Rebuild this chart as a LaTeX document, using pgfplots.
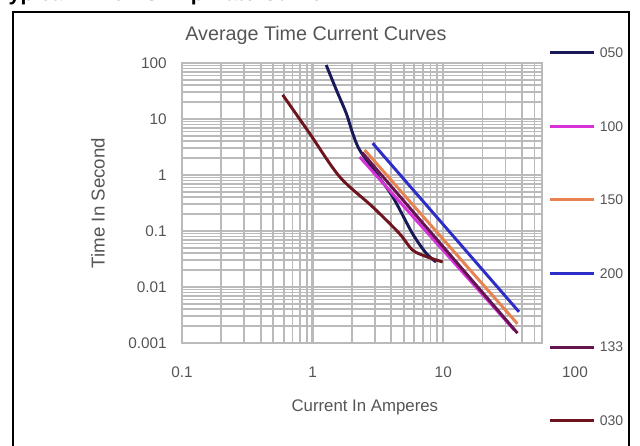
\documentclass[border=0pt]{standalone}
\usepackage{pgfplots}
\pgfplotsset{compat=1.18}
\usepackage{fontspec}
\setmainfont{Liberation Sans}
\definecolor{c050}{RGB}{25,25,90}
\definecolor{c100}{RGB}{215,50,215}
\definecolor{c150}{RGB}{232,130,80}
\definecolor{c200}{RGB}{45,45,200}
\definecolor{c133}{RGB}{100,20,80}
\definecolor{c030}{RGB}{110,20,30}
\definecolor{txt}{RGB}{85,85,85}
\definecolor{gridc}{RGB}{186,186,186}
\begin{document}
\begin{tikzpicture}
\begin{axis}[
  scale only axis, width=270pt, height=210pt,
  xmode=log, ymode=log,
  xmin=0.1, xmax=57, ymin=0.001, ymax=100,
  xtick={0.1,1,10}, xticklabels={0.1,1,10},
  ytick={0.001,0.01,0.1,1,10,100}, yticklabels={0.001,0.01,0.1,1,10,100},
  minor xtick={0.2,0.3,0.4,0.5,0.6,0.7,0.8,0.9,2,3,4,5,6,7,8,9,20,30,40,50},
  minor ytick={0.002,0.003,0.004,0.005,0.006,0.007,0.008,0.009,
    0.02,0.03,0.04,0.05,0.06,0.07,0.08,0.09,
    0.2,0.3,0.4,0.5,0.6,0.7,0.8,0.9,
    2,3,4,5,6,7,8,9,20,30,40,50,60,70,80,90},
  grid=both,
  major grid style={gridc, line width=1.8pt},
  minor grid style={gridc, line width=1.3pt},
  major tick length=0pt, minor tick length=0pt,
  axis line style={gridc, line width=1.6pt},
  xticklabel style={font=\fontsize{11.5}{12}\selectfont, text=txt, anchor=center, inner sep=0pt, yshift=-21.75pt},
  yticklabel style={font=\fontsize{11.5}{12}\selectfont, text=txt, anchor=east, inner sep=0pt, xshift=-11.25pt},
  title={Average Time Current Curves},
  title style={at={(axis description cs:0.372,1.071)}, anchor=center, font=\fontsize{14.8}{16}\selectfont, text=txt},
  xlabel={Current In Amperes},
  xlabel style={at={(axis description cs:0.508,-0.2286)}, anchor=center, font=\fontsize{12.6}{14}\selectfont, text=txt},
  ylabel={Time In Second},
  ylabel style={at={(axis description cs:-0.2333,0.5)}, anchor=center, font=\fontsize{14}{15}\selectfont, text=txt},
  legend style={at={(axis description cs:1.0194,1.0533)}, anchor=north west, draw=none, fill=none,
    inner sep=0pt, outer sep=0pt, row sep=48.2pt, column sep=3pt,
    font=\fontsize{10.5}{11}\selectfont, text=txt,
    nodes={inner sep=0pt, text height=7pt, text depth=0pt}},
  legend cell align=left,
  legend image code/.code={\path[draw=none, fill=none] (0pt,-3.5pt) rectangle (33pt,3.5pt); \draw[#1] (0pt,0pt) -- (33pt,0pt);},
  every axis plot/.append style={line width=2.2pt},
]
\addplot[c050, smooth] coordinates {(1.27,92) (1.52,33) (1.81,12.6) (2.03,5.5) (2.29,2.8) (3.06,1.07) (4.1,0.41) (5.8,0.091) (7.4,0.040) (8.8,0.028)};
\addplot[c100] coordinates {(2.29,2.1) (35,0.0017)};
\addplot[c150] coordinates {(2.5,2.8) (37,0.0022)};
\addplot[c200] coordinates {(2.88,3.7) (38,0.0036)};
\addplot[c133] coordinates {(2.4,2.5) (37,0.0015)};
\addplot[c030, smooth] coordinates {(0.59,27) (0.95,5.5) (1.61,0.93) (2.88,0.27) (4.6,0.091) (5.8,0.046) (7.4,0.035) (9.9,0.028)};
\legend{050,100,150,200,133,030}
\end{axis}
\node[anchor=center, inner sep=0pt, font=\fontsize{11.5}{12}\selectfont, text=txt] at (294.75pt,-21.75pt) {100};
\draw[line width=2pt] (-126.75pt,-87.75pt) rectangle (335.25pt,248.25pt);
\node[anchor=base west, inner sep=0pt, font=\bfseries\fontsize{16}{18}\selectfont] at (-138.75pt,256.5pt) {Typical Time VS Trip Rate Curve};
\pgfresetboundingbox
\useasboundingbox (-136.5pt,-77.25pt) rectangle (343.5pt,257.25pt);
\end{tikzpicture}
\end{document}
